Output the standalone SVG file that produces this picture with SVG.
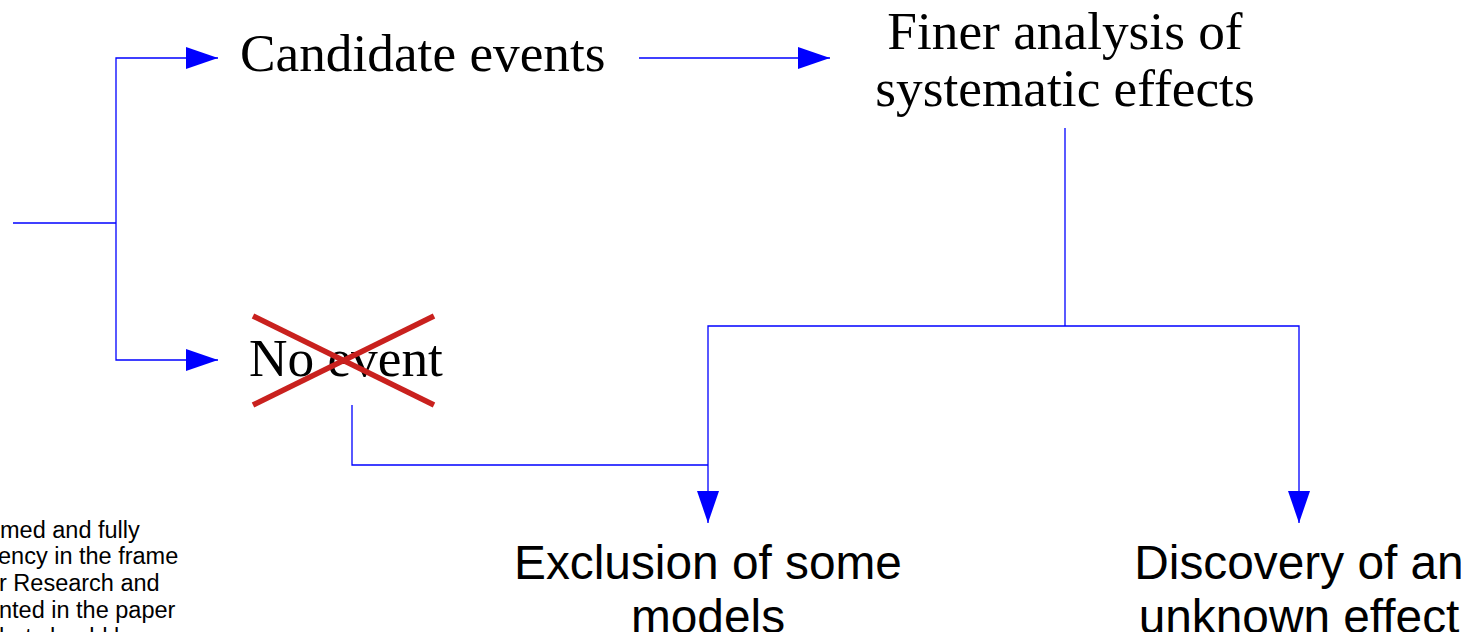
<svg xmlns="http://www.w3.org/2000/svg" width="1461" height="632" viewBox="0 0 1461 632">
<defs>
<style>
.serif{font-family:"Liberation Serif","Times New Roman",serif;font-size:53.3px;fill:#000}
.sans{font-family:"Liberation Sans",Arial,sans-serif;font-size:47.8px;fill:#000}
.note{font-family:"Liberation Sans",Arial,sans-serif;font-size:23.5px;fill:#000}
.conn{fill:none;stroke:#0000ff;stroke-width:1.3}
.cross{stroke:#c9211e;stroke-width:5.5;stroke-linecap:butt}
</style>
<marker id="ar" markerWidth="32" markerHeight="22" refX="32" refY="11" orient="auto" markerUnits="userSpaceOnUse">
<path d="M0,0 L32,11 L0,22 Z" fill="#0000ff"/>
</marker>
</defs>
<rect width="1461" height="632" fill="#fff"/>
<g id="connectors">
<path class="conn" d="M13,223 H116"/>
<path class="conn" d="M116,223 V58 H218" marker-end="url(#ar)"/>
<path class="conn" d="M116,223 V360 H218" marker-end="url(#ar)"/>
<path class="conn" d="M639,58 H830" marker-end="url(#ar)"/>
<path class="conn" d="M1065,128 V326"/>
<path class="conn" d="M1065,326 H708 V523" marker-end="url(#ar)"/>
<path class="conn" d="M1065,326 H1299 V523" marker-end="url(#ar)"/>
<path class="conn" d="M352,405 V465 H708"/>
</g>
<g id="candidate">
<text class="serif" x="240" y="71">Candidate events</text>
</g>
<g id="finer">
<text class="serif" x="1065" y="49" text-anchor="middle">Finer analysis of</text>
<text class="serif" x="1065" y="106" text-anchor="middle">systematic effects</text>
</g>
<g id="noevent">
<text class="serif" x="249" y="376">No event</text>
<line class="cross" x1="253" y1="316" x2="434" y2="405"/>
<line class="cross" x1="253" y1="405" x2="434" y2="316"/>
</g>
<g id="exclusion">
<text class="sans" x="708" y="579" text-anchor="middle">Exclusion of some</text>
<text class="sans" x="708" y="633" text-anchor="middle">models</text>
</g>
<g id="discovery">
<text class="sans" x="1299" y="579" text-anchor="middle">Discovery of an</text>
<text class="sans" x="1299" y="633" text-anchor="middle">unknown effect</text>
</g>
<g id="note">
<text class="note" x="0" y="538">med and fully</text>
<text class="note" x="-2" y="564">ency in the frame</text>
<text class="note" x="-1" y="591">r Research and</text>
<text class="note" x="-1" y="618">nted in the paper</text>
<text class="note" x="-1" y="645">hat should be</text>
</g>
</svg>
